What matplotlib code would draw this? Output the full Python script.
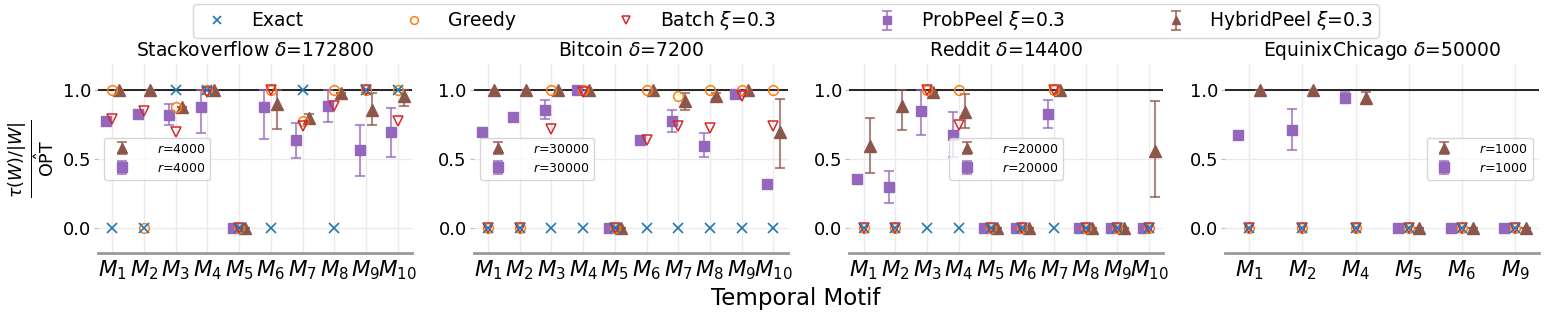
import numpy as np
import matplotlib.pyplot as plt
from matplotlib.colors import to_rgba

# ---- data ----
so_motifs = [1, 2, 3, 4, 5, 6, 7, 8, 9, 10]
so_exact = [0, 0, 1, 1, 0, 0, 1, 0, 1, 1]
so_greedy = [1, 0, 0.88, 1, 0, 1, 0.78, 1, 1, 1]
so_batch = [0.79, 0.85, 0.70, 0.99, 0, 1.0, 0.74, 0.89, 1.0, 0.78]
so_prob = [0.78, 0.83, 0.82, 0.88, 0, 0.88, 0.64, 0.89, 0.57, 0.70]
so_prob_lo = [0.78, 0.83, 0.75, 0.69, 0, 0.65, 0.51, 0.77, 0.38, 0.52]
so_prob_hi = [0.78, 0.83, 0.90, 1.0, 0, 1.0, 0.76, 1.0, 0.75, 0.87]
so_hyb = [1, 1, 0.88, 1, 0, 0.90, 0.80, 0.98, 0.86, 0.96]
so_hyb_lo = [1, 1, 0.88, 1, 0, 0.72, 0.78, 0.98, 0.75, 0.89]
so_hyb_hi = [1, 1, 0.88, 1, 0, 1.0, 0.83, 0.98, 0.98, 1.0]

bc_motifs = [1, 2, 3, 4, 5, 6, 7, 8, 9, 10]
bc_exact = [0, 0, 0, 0, 0, 0, 0, 0, 0, 0]
bc_greedy = [0, 0, 1, 1, 0, 1, 0.96, 1, 1, 1]
bc_batch = [0, 0, 0.72, 0.99, 0, 0.64, 0.74, 0.73, 0.96, 0.74]
bc_prob = [0.70, 0.81, 0.86, 1.0, 0, 0.64, 0.78, 0.60, 0.97, 0.32]
bc_prob_lo = [0.70, 0.81, 0.79, 1.0, 0, 0.64, 0.70, 0.52, 0.97, 0.32]
bc_prob_hi = [0.70, 0.81, 0.93, 1.0, 0, 0.64, 0.86, 0.69, 0.97, 0.32]
bc_hyb = [1, 1, 1, 1, 0, 1, 0.92, 0.96, 1, 0.70]
bc_hyb_lo = [1, 1, 1, 1, 0, 1, 0.86, 0.94, 1, 0.44]
bc_hyb_hi = [1, 1, 1, 1, 0, 1, 0.98, 0.98, 1, 0.94]

rd_motifs = [1, 2, 3, 4, 5, 6, 7, 8, 9, 10]
rd_exact = [0, 0, 0, 0, 0, 0, 0, 0, 0, 0]
rd_greedy = [0, 0, 1, 1, 0, 0, 1, 0, 0, 0]
rd_batch = [0, 0, 1, 0.75, 0, 0, 1, 0, 0, 0]
rd_prob = [0.36, 0.30, 0.85, 0.675, 0, 0, 0.83, 0, 0, 0]
rd_prob_lo = [0.36, 0.18, 0.675, 0.52, 0, 0, 0.73, 0, 0, 0]
rd_prob_hi = [0.36, 0.415, 1.0, 0.84, 0, 0, 0.93, 0, 0, 0]
rd_hyb = [0.595, 0.89, 0.99, 0.845, 0, 0, 1.0, 0, 0, 0.56]
rd_hyb_lo = [0.40, 0.71, 0.99, 0.73, 0, 0, 1.0, 0, 0, 0.225]
rd_hyb_hi = [0.80, 1.0, 0.99, 0.97, 0, 0, 1.0, 0, 0, 0.92]

eq_motifs = [1, 2, 4, 5, 6, 9]
eq_exact = [0, 0, 0, 0, 0, 0]
eq_greedy = [0, 0, 0, 0, 0, 0]
eq_batch = [0, 0, 0, 0, 0, 0]
eq_prob = [0.675, 0.715, 0.945, 0, 0, 0]
eq_prob_lo = [0.675, 0.57, 0.905, 0, 0, 0]
eq_prob_hi = [0.675, 0.865, 0.99, 0, 0, 0]
eq_hyb = [1, 1, 0.945, 0, 0, 0]
eq_hyb_lo = [1, 1, 0.915, 0, 0, 0]
eq_hyb_hi = [1, 1, 0.985, 0, 0, 0]

titles = ["Stackoverflow $\\delta$=172800", "Bitcoin $\\delta$=7200",
          "Reddit $\\delta$=14400", "EquinixChicago $\\delta$=50000"]
sample_sizes = [4000, 30000, 20000, 1000]
legend_locs = ["center left", "center left", "center", "center right"]

motif_lists = [so_motifs, bc_motifs, rd_motifs, eq_motifs]
panels = [
    (so_exact, so_greedy, so_batch, so_prob, so_prob_lo, so_prob_hi, so_hyb, so_hyb_lo, so_hyb_hi),
    (bc_exact, bc_greedy, bc_batch, bc_prob, bc_prob_lo, bc_prob_hi, bc_hyb, bc_hyb_lo, bc_hyb_hi),
    (rd_exact, rd_greedy, rd_batch, rd_prob, rd_prob_lo, rd_prob_hi, rd_hyb, rd_hyb_lo, rd_hyb_hi),
    (eq_exact, eq_greedy, eq_batch, eq_prob, eq_prob_lo, eq_prob_hi, eq_hyb, eq_hyb_lo, eq_hyb_hi),
]

#%%
fig, axes = plt.subplots(1, 4, figsize=(15.44, 3.16), dpi=100)
fig.subplots_adjust(left=0.0635, right=0.9968, bottom=0.199, top=0.797, wspace=0.197)

purple_err = to_rgba("tab:purple", 0.7)
brown_err = to_rgba("tab:brown", 0.7)
shift = 0.2

for i, ax in enumerate(axes):
    motifs = motif_lists[i]
    exact, greedy, batch, prob, prob_lo, prob_hi, hyb, hyb_lo, hyb_hi = [np.asarray(a, float) for a in panels[i]]
    x = np.arange(len(motifs))

    ax.axhline(y=1.0, color="black", linewidth=1.2, zorder=1)

    h_exact, = ax.plot(x, exact, "x", color="tab:blue", markersize=6.5, markeredgewidth=1.2,
                       linestyle="none", label="Exact", zorder=5)
    h_greedy, = ax.plot(x, greedy, "o", markerfacecolor="none", markeredgecolor="tab:orange",
                        markersize=7, markeredgewidth=1.1, linestyle="none", label="Greedy", zorder=4)
    h_batch, = ax.plot(x, batch, "v", markerfacecolor="none", markeredgecolor="tab:red",
                       markersize=7, markeredgewidth=1.1, linestyle="none", label="Batch $\\xi$=0.3", zorder=4)
    h_prob = ax.errorbar(x - shift, prob, yerr=[prob - prob_lo, prob_hi - prob], fmt="s",
                         color="tab:purple", ecolor=purple_err, markersize=7.5, capsize=3.5,
                         elinewidth=1.5, capthick=1.5, label="ProbPeel $\\xi$=0.3", zorder=3)
    h_hyb = ax.errorbar(x + shift, hyb, yerr=[hyb - hyb_lo, hyb_hi - hyb], fmt="^",
                        color="tab:brown", ecolor=brown_err, markersize=8, capsize=3.5,
                        elinewidth=1.5, capthick=1.5, label="HybridPeel $\\xi$=0.3", zorder=3)

    ax.set_xticks(x)
    ax.set_xticklabels([f"$M_{{{m}}}$" for m in motifs], fontsize=15.5)
    ax.set_xlim(-0.45, len(motifs) - 0.55)
    ax.set_ylim(-0.18, 1.19)
    ax.set_yticks([0.0, 0.5, 1.0])
    ax.tick_params(axis="y", labelsize=13, length=3, color="#bbbbbb", pad=2)
    ax.tick_params(axis="x", length=0, pad=4)
    ax.grid(True, color="#ebebeb", linewidth=1)
    ax.set_axisbelow(True)
    for side in ["top", "right", "left"]:
        ax.spines[side].set_visible(False)
    ax.spines["bottom"].set_color("#999999")
    ax.spines["bottom"].set_linewidth(2)
    ax.set_title(titles[i], fontsize=13.5)

    r = sample_sizes[i]
    ax.legend([h_hyb, h_prob], [f"$r$={r}", f"$r$={r}"], loc=legend_locs[i],
              fontsize=9, handletextpad=1.8, markerscale=0.9)

    if i == 0:
        fig_handles = [h_exact, h_greedy, h_batch, h_prob, h_hyb]

axes[0].set_ylabel("$\\frac{\\tau(W)/|W|}{\\hat{\\mathrm{OPT}}}$", fontsize=18, labelpad=4)

fig.legend(
    fig_handles,
    [h.get_label() for h in fig_handles],
    loc="upper center",
    bbox_to_anchor=(0.509, 1.0),
    borderaxespad=0.2,
    borderpad=0.3,
    ncol=5,
    fontsize=13.5,
    columnspacing=4.9,
    markerscale=0.8,
    handleheight=0.5,
)
fig.text(0.5155, 0.055, "Temporal Motif", fontsize=16.5, ha="center", va="center")

plt.savefig("out.png", dpi=100)
